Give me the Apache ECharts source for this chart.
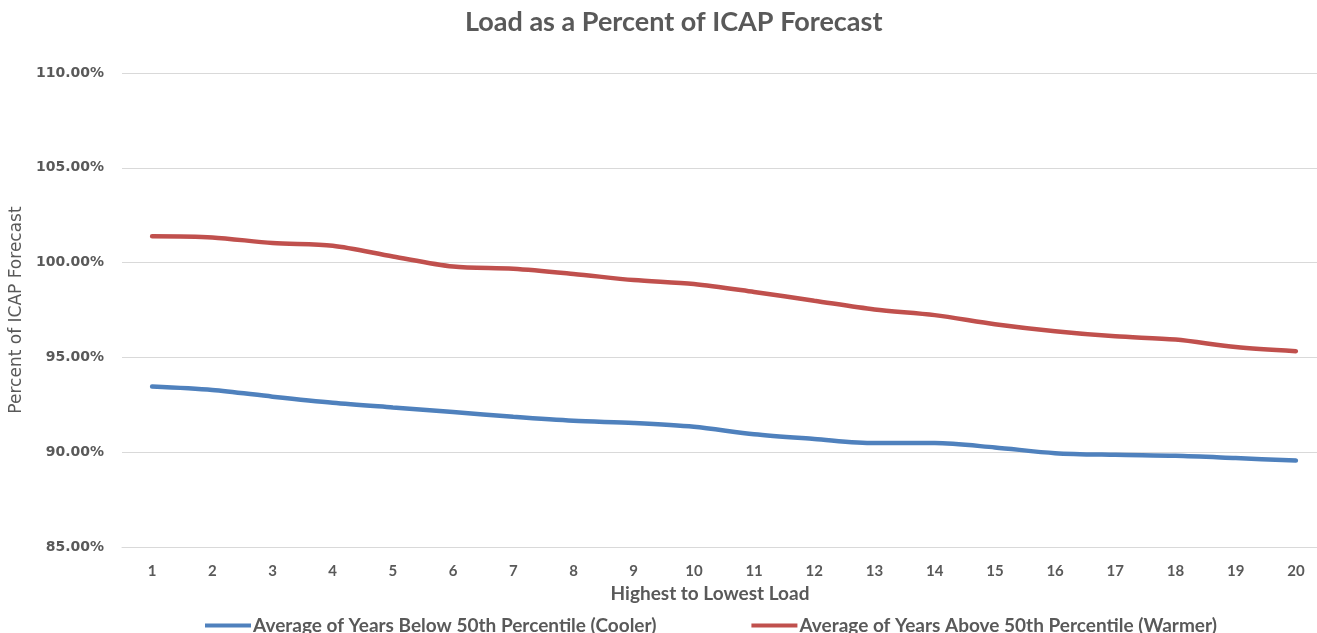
<!DOCTYPE html>
<html>
<head>
<meta charset="utf-8">
<title>Load as a Percent of ICAP Forecast</title>
<script src="https://cdn.jsdelivr.net/npm/echarts@6/dist/echarts.min.js"></script>
<style>
  html, body { margin: 0; padding: 0; background: #fff; overflow: hidden; }
  /* a little wider than the window: the source plot runs past its right edge */
  #chart { width: 1330px; height: 633px; }
</style>
</head>
<body>
<div id="chart"></div>
<script>
  // x categories: rank from highest to lowest load
  const ranks = ['1', '2', '3', '4', '5', '6', '7', '8', '9', '10',
    '11', '12', '13', '14', '15', '16', '17', '18', '19', '20'];

  // load as percent of ICAP forecast
  const coolerYears = [93.46, 93.28, 92.93, 92.61, 92.36, 92.12, 91.87, 91.66, 91.54, 91.34,
    90.95, 90.70, 90.48, 90.48, 90.25, 89.95, 89.86, 89.81, 89.69, 89.56];
  const warmerYears = [101.39, 101.33, 101.03, 100.89, 100.32, 99.79, 99.67, 99.40, 99.08, 98.87,
    98.45, 97.99, 97.53, 97.23, 96.75, 96.38, 96.11, 95.94, 95.55, 95.33];

  const seriesNames = [
    'Average of Years Below 50th Percentile (Cooler)',
    'Average of Years Above 50th Percentile (Warmer)'
  ];

  const textColor = '#595959';
  const gridColor = '#d9d9d9';

  const chart = echarts.init(document.getElementById('chart'), null, { renderer: 'canvas' });

  chart.setOption({
    backgroundColor: '#fff',
    animation: false,
    title: {
      text: 'Load as a Percent of ICAP Forecast',
      left: 460,
      top: 4,
      textStyle: { color: textColor, fontFamily: 'Lato', fontWeight: 'bold', fontSize: 27 }
    },
    legend: {
      left: 205,
      top: 616,
      padding: 0,
      itemWidth: 46,
      itemHeight: 4,
      itemGap: 95,
      icon: 'rect',
      textStyle: { color: textColor, fontFamily: 'Lato', fontWeight: 'bold', fontSize: 19, padding: [0, 0, 0, -3] },
      data: seriesNames
    },
    grid: { left: 122, right: 4, top: 73, bottom: 86, containLabel: false },
    xAxis: {
      type: 'category',
      data: ranks,
      boundaryGap: true,
      name: 'Highest to Lowest Load',
      nameLocation: 'middle',
      nameGap: 34,
      nameTextStyle: { color: textColor, fontFamily: 'Lato', fontWeight: 'bold', fontSize: 19, padding: [0, 28, 0, 0] },
      axisLine: { show: true, lineStyle: { color: gridColor, width: 1 } },
      axisTick: { show: false },
      axisLabel: { color: textColor, fontFamily: 'Lato', fontWeight: 'bold', fontSize: 15, margin: 17 }
    },
    yAxis: {
      type: 'value',
      min: 85,
      max: 110,
      interval: 5,
      name: 'Percent of ICAP Forecast',
      nameLocation: 'middle',
      nameGap: 90,
      nameTextStyle: { color: textColor, fontFamily: 'DejaVu Sans', fontSize: 17 },
      axisLine: { show: false },
      axisTick: { show: false },
      splitLine: { lineStyle: { color: gridColor, width: 1 } },
      axisLabel: {
        color: textColor,
        fontFamily: 'DejaVu Sans',
        fontWeight: 'bold',
        fontSize: 14,
        margin: 18,
        formatter: (v) => v.toFixed(2) + '%'
      }
    },
    series: [
      {
        name: seriesNames[0],
        type: 'line',
        data: coolerYears,
        smooth: 0.3,
        showSymbol: false,
        lineStyle: { color: '#4f81bd', width: 4.5, cap: 'round' },
        itemStyle: { color: '#4f81bd' }
      },
      {
        name: seriesNames[1],
        type: 'line',
        data: warmerYears,
        smooth: 0.3,
        showSymbol: false,
        lineStyle: { color: '#c0504d', width: 4.5, cap: 'round' },
        itemStyle: { color: '#c0504d' }
      }
    ]
  });

  window.addEventListener('resize', () => chart.resize());
</script>
</body>
</html>
